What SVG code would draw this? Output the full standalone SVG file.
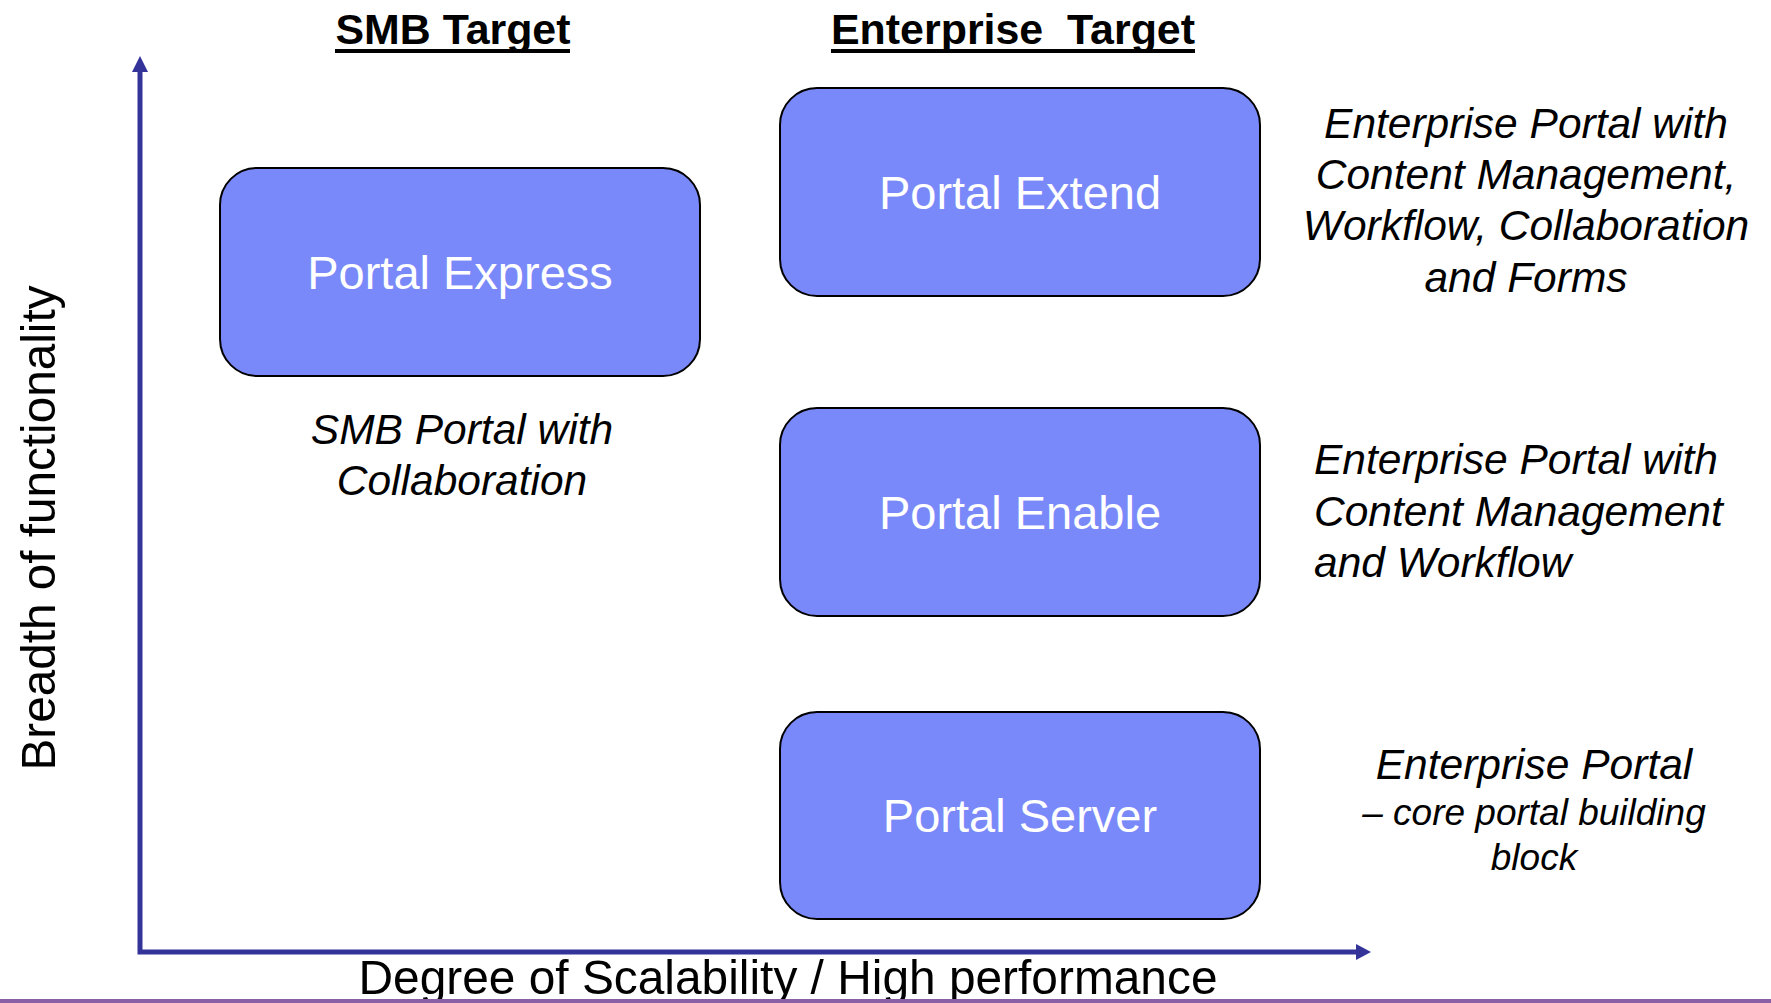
<svg xmlns="http://www.w3.org/2000/svg" width="1771" height="1003" viewBox="0 0 1771 1003">
<style>
.box{fill:#7a89f9;stroke:#000;stroke-width:2}
.bt{font-family:"Liberation Sans",Arial,sans-serif;font-size:47px;fill:#fff;text-anchor:middle}
.cap{font-family:"Liberation Sans",Arial,sans-serif;font-size:42.5px;font-style:italic;fill:#000}
.ttl{font-family:"Liberation Sans",Arial,sans-serif;font-size:43px;font-weight:bold;fill:#000;text-anchor:middle}
.ax{font-family:"Liberation Sans",Arial,sans-serif;font-size:49px;fill:#000;text-anchor:middle}
.axis{stroke:#333399;stroke-width:5;fill:none}
</style>
<rect width="1771" height="1003" fill="#fff"/>
<g id="titles">
<text class="ttl" x="453" y="44" textLength="235" lengthAdjust="spacingAndGlyphs">SMB Target</text>
<rect x="335" y="49" width="235" height="4" fill="#000"/>
<text class="ttl" x="1013" y="44" textLength="364" lengthAdjust="spacingAndGlyphs" xml:space="preserve">Enterprise  Target</text>
<rect x="831" y="49" width="364" height="4" fill="#000"/>
</g>
<g id="connectors">
<path class="axis" d="M140 70 V952 H1358"/>
<polygon points="140,56 148,72 132,72" fill="#333399"/>
<polygon points="1371,952 1356,944 1356,960" fill="#333399"/>
</g>
<g id="axis-labels">
<text class="ax" x="788" y="994" textLength="859" lengthAdjust="spacingAndGlyphs">Degree of Scalability / High performance</text>
<text class="ax" transform="translate(55,528) rotate(-90)" x="0" y="0" font-size="52" textLength="485" lengthAdjust="spacingAndGlyphs">Breadth of functionality</text>
</g>
<g id="portal-express">
<rect class="box" x="220" y="168" width="480" height="208" rx="37"/>
<text class="bt" x="460" y="289">Portal Express</text>
</g>
<g id="portal-extend">
<rect class="box" x="780" y="88" width="480" height="208" rx="37"/>
<text class="bt" x="1020" y="209">Portal Extend</text>
</g>
<g id="portal-enable">
<rect class="box" x="780" y="408" width="480" height="208" rx="37"/>
<text class="bt" x="1020" y="529">Portal Enable</text>
</g>
<g id="portal-server">
<rect class="box" x="780" y="712" width="480" height="207" rx="37"/>
<text class="bt" x="1020" y="832">Portal Server</text>
</g>
<g id="captions">
<text class="cap" text-anchor="middle"><tspan x="462" y="444">SMB Portal with</tspan><tspan x="462" y="495">Collaboration</tspan></text>
<text class="cap" text-anchor="middle"><tspan x="1526" y="138">Enterprise Portal with</tspan><tspan x="1526" y="189">Content Management,</tspan><tspan x="1526" y="240">Workflow, Collaboration</tspan><tspan x="1526" y="292">and Forms</tspan></text>
<text class="cap"><tspan x="1314" y="474">Enterprise Portal with</tspan><tspan x="1314" y="526">Content Management</tspan><tspan x="1314" y="577">and Workflow</tspan></text>
<text class="cap" text-anchor="middle"><tspan x="1534" y="779">Enterprise Portal</tspan><tspan x="1534" y="825" font-size="37">– core portal building</tspan><tspan x="1534" y="870" font-size="37">block</tspan></text>
</g>
<rect x="0" y="999" width="1771" height="4" fill="#8a5fa5"/>
</svg>
